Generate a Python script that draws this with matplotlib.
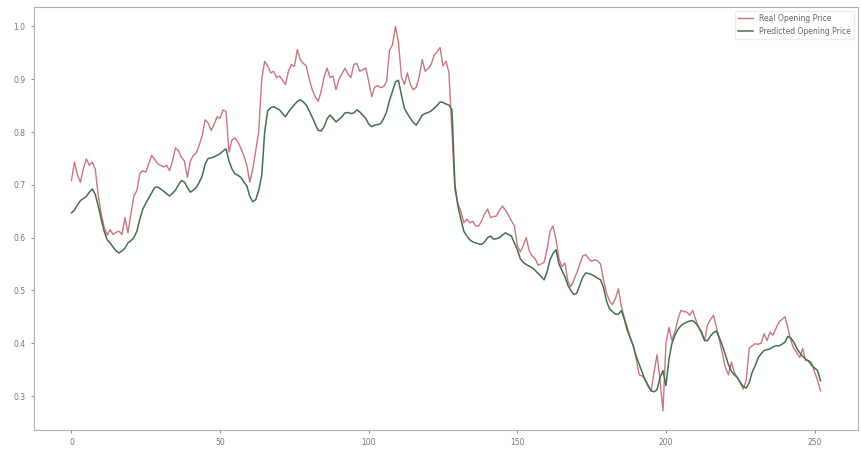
import numpy as np
import matplotlib
matplotlib.use('Agg')
import matplotlib.pyplot as plt

# valores (precos normalizados)
real_price = [
    0.708, 0.743, 0.720, 0.705, 0.730, 0.749, 0.737, 0.743, 0.730, 0.680,
    0.645, 0.620, 0.605, 0.615, 0.606, 0.610, 0.612, 0.606, 0.638, 0.609,
    0.645, 0.679, 0.689, 0.721, 0.727, 0.724, 0.740, 0.756, 0.748, 0.740,
    0.737, 0.734, 0.737, 0.727, 0.745, 0.770, 0.765, 0.752, 0.745, 0.714,
    0.745, 0.756, 0.760, 0.775, 0.794, 0.823, 0.817, 0.803, 0.815, 0.829,
    0.826, 0.842, 0.839, 0.762, 0.785, 0.789, 0.781, 0.769, 0.755, 0.737,
    0.705, 0.730, 0.765, 0.800, 0.900, 0.934, 0.925, 0.912, 0.915, 0.903,
    0.906, 0.898, 0.890, 0.915, 0.928, 0.924, 0.956, 0.937, 0.930, 0.925,
    0.900, 0.880, 0.867, 0.858, 0.877, 0.905, 0.921, 0.903, 0.906, 0.880,
    0.900, 0.910, 0.921, 0.910, 0.903, 0.928, 0.930, 0.915, 0.918, 0.921,
    0.896, 0.867, 0.885, 0.888, 0.884, 0.886, 0.895, 0.955, 0.965, 1.000,
    0.970, 0.905, 0.890, 0.912, 0.890, 0.880, 0.885, 0.905, 0.937, 0.915,
    0.920, 0.928, 0.945, 0.952, 0.960, 0.925, 0.934, 0.912, 0.800, 0.690,
    0.665, 0.650, 0.628, 0.635, 0.628, 0.631, 0.622, 0.622, 0.632, 0.645,
    0.654, 0.638, 0.640, 0.641, 0.652, 0.660, 0.652, 0.643, 0.632, 0.622,
    0.585, 0.573, 0.585, 0.600, 0.575, 0.565, 0.560, 0.548, 0.550, 0.553,
    0.578, 0.612, 0.622, 0.597, 0.560, 0.545, 0.552, 0.517, 0.507, 0.520,
    0.533, 0.550, 0.565, 0.568, 0.560, 0.555, 0.558, 0.556, 0.550, 0.520,
    0.495, 0.480, 0.473, 0.485, 0.503, 0.470, 0.448, 0.430, 0.410, 0.395,
    0.370, 0.340, 0.338, 0.332, 0.318, 0.310, 0.345, 0.378, 0.330, 0.272,
    0.400, 0.430, 0.405, 0.421, 0.445, 0.462, 0.460, 0.459, 0.453, 0.462,
    0.445, 0.430, 0.418, 0.405, 0.435, 0.445, 0.453, 0.430, 0.405, 0.380,
    0.354, 0.340, 0.364, 0.345, 0.335, 0.325, 0.313, 0.330, 0.390, 0.395,
    0.399, 0.398, 0.400, 0.418, 0.405, 0.421, 0.415, 0.428, 0.440, 0.445,
    0.450, 0.430, 0.405, 0.390, 0.382, 0.373, 0.390, 0.367, 0.367, 0.363,
    0.345, 0.330, 0.310,
]

predicted_price = [
    0.647, 0.652, 0.662, 0.670, 0.674, 0.678, 0.686, 0.692, 0.682, 0.660,
    0.635, 0.612, 0.596, 0.590, 0.582, 0.575, 0.571, 0.575, 0.580, 0.590,
    0.594, 0.600, 0.612, 0.635, 0.654, 0.665, 0.675, 0.685, 0.695, 0.696,
    0.692, 0.688, 0.683, 0.679, 0.684, 0.690, 0.700, 0.708, 0.705, 0.695,
    0.686, 0.690, 0.695, 0.705, 0.717, 0.740, 0.750, 0.751, 0.753, 0.756,
    0.759, 0.764, 0.768, 0.745, 0.730, 0.721, 0.718, 0.714, 0.705, 0.698,
    0.678, 0.668, 0.672, 0.690, 0.717, 0.800, 0.840, 0.846, 0.848, 0.845,
    0.842, 0.835, 0.829, 0.838, 0.845, 0.852, 0.858, 0.861, 0.857, 0.851,
    0.840, 0.828, 0.815, 0.803, 0.802, 0.810, 0.825, 0.832, 0.826, 0.819,
    0.824, 0.829, 0.836, 0.837, 0.835, 0.836, 0.842, 0.838, 0.832, 0.826,
    0.815, 0.810, 0.813, 0.814, 0.816, 0.825, 0.838, 0.860, 0.877, 0.895,
    0.898, 0.870, 0.845, 0.835, 0.826, 0.818, 0.813, 0.822, 0.832, 0.835,
    0.837, 0.840, 0.845, 0.850, 0.857, 0.856, 0.853, 0.851, 0.842, 0.700,
    0.660, 0.635, 0.612, 0.603, 0.596, 0.592, 0.590, 0.588, 0.587, 0.592,
    0.600, 0.603, 0.597, 0.598, 0.600, 0.605, 0.609, 0.606, 0.603, 0.590,
    0.577, 0.560, 0.553, 0.549, 0.546, 0.543, 0.538, 0.532, 0.526, 0.520,
    0.535, 0.558, 0.570, 0.577, 0.550, 0.538, 0.526, 0.510, 0.500, 0.492,
    0.495, 0.510, 0.525, 0.533, 0.532, 0.530, 0.527, 0.523, 0.520, 0.505,
    0.480, 0.465, 0.460, 0.455, 0.455, 0.462, 0.445, 0.424, 0.410, 0.395,
    0.375, 0.360, 0.345, 0.330, 0.320, 0.310, 0.308, 0.312, 0.335, 0.348,
    0.320, 0.370, 0.400, 0.415, 0.426, 0.433, 0.437, 0.440, 0.442, 0.443,
    0.438, 0.430, 0.421, 0.405, 0.405, 0.414, 0.420, 0.423, 0.410, 0.395,
    0.378, 0.360, 0.347, 0.340, 0.335, 0.326, 0.318, 0.315, 0.325, 0.345,
    0.357, 0.372, 0.380, 0.386, 0.388, 0.389, 0.393, 0.395, 0.395, 0.398,
    0.402, 0.413, 0.410, 0.402, 0.390, 0.382, 0.375, 0.370, 0.366, 0.358,
    0.353, 0.348, 0.329,
]

fig = plt.figure(figsize=(8.61, 4.5), dpi=100)
ax = fig.add_axes([0.0395, 0.0444, 0.957, 0.9396])

ax.plot(real_price, color='#cc7480', linewidth=1.0, label='Real Opening Price')
ax.plot(predicted_price, color='#44704e', linewidth=1.1, label='Predicted Opening Price')

ax.set_xticks([0, 50, 100, 150, 200, 250])
ax.set_yticks([0.3, 0.4, 0.5, 0.6, 0.7, 0.8, 0.9, 1.0])
ax.tick_params(labelsize=5.5, colors='#777777', length=2.5, width=0.6)
for s in ax.spines.values():
    s.set_color('#b0b0b0')
    s.set_linewidth(0.8)

leg = ax.legend(loc='upper right', fontsize=5.5, frameon=True)
leg.get_frame().set_edgecolor('#e8e8e8')
for t in leg.get_texts():
    t.set_color('#666666')

plt.savefig('out.png', dpi=100)
